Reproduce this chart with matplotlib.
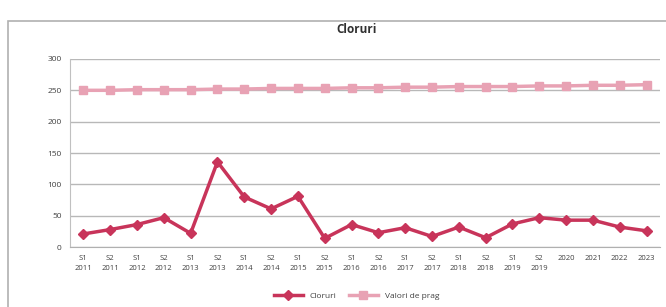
import matplotlib
matplotlib.use('Agg')
import matplotlib.pyplot as plt
from matplotlib.patches import Rectangle

# Data
perioade = ['S1\n2011', 'S2\n2011', 'S1\n2012', 'S2\n2012', 'S1\n2013', 'S2\n2013',
            'S1\n2014', 'S2\n2014', 'S1\n2015', 'S2\n2015', 'S1\n2016', 'S2\n2016',
            'S1\n2017', 'S2\n2017', 'S1\n2018', 'S2\n2018', 'S1\n2019', 'S2\n2019',
            '2020', '2021', '2022', '2023']
cloruri = [21, 28, 36, 47, 22, 136, 80, 61, 81, 14, 36, 23,
           31, 17, 32, 15, 37, 47, 43, 43, 32, 26]
valori_prag = [250, 250, 251, 251, 251, 252, 252, 253, 253, 253, 254, 254,
               255, 255, 256, 256, 256, 257, 257, 258, 258, 259]
y_ticks = [0, 50, 100, 150, 200, 250, 300]

plt.rcParams['font.family'] = ['Open Sans', 'DejaVu Sans']

fig = plt.figure(figsize=(6.66, 3.07), dpi=100)
fig.patch.set_facecolor('white')

# chart frame
fig.patches.append(Rectangle((0.012, -0.05), 1.1, 0.98, transform=fig.transFigure,
                             fill=False, edgecolor='#b0b0b0', linewidth=1.2))

ax = fig.add_axes([0.105, 0.195, 0.886, 0.613])
x = list(range(len(perioade)))

ax.plot(x, valori_prag, color='#e8a2b4', linewidth=2.5, marker='s', markersize=5.5,
        label='Valori de prag')
ax.plot(x, cloruri, color='#c8345a', linewidth=2.5, marker='D', markersize=5,
        label='Cloruri')

ax.set_xlim(-0.5, len(perioade) - 0.5)
ax.set_ylim(0, 300)
ax.set_yticks(y_ticks)
ax.set_yticklabels([str(v) for v in y_ticks], fontsize=6, color='#404040')
ax.set_xticks(x)
ax.set_xticklabels(perioade, fontsize=5.5, color='#404040', linespacing=1.5)
ax.tick_params(axis='both', length=0, pad=6)
ax.grid(axis='y', color='#b8b8b8', linewidth=1)
ax.set_axisbelow(True)
for s in ['top', 'right']:
    ax.spines[s].set_visible(False)
ax.spines['left'].set_color('#c0c0c0')
ax.spines['bottom'].set_color('#b0b0b0')

fig.text(0.535, 0.905, 'Cloruri', ha='center', va='center', fontsize=8.5,
         fontweight='bold', color='#303030')

handles, labels = ax.get_legend_handles_labels()
ax.legend(handles[::-1], labels[::-1], loc='center', bbox_to_anchor=(0.535, 0.035),
          bbox_transform=fig.transFigure, ncol=2, frameon=False, fontsize=6,
          handlelength=3.5, columnspacing=1.5, labelcolor='#404040')

fig.savefig('out.png', dpi=100)
